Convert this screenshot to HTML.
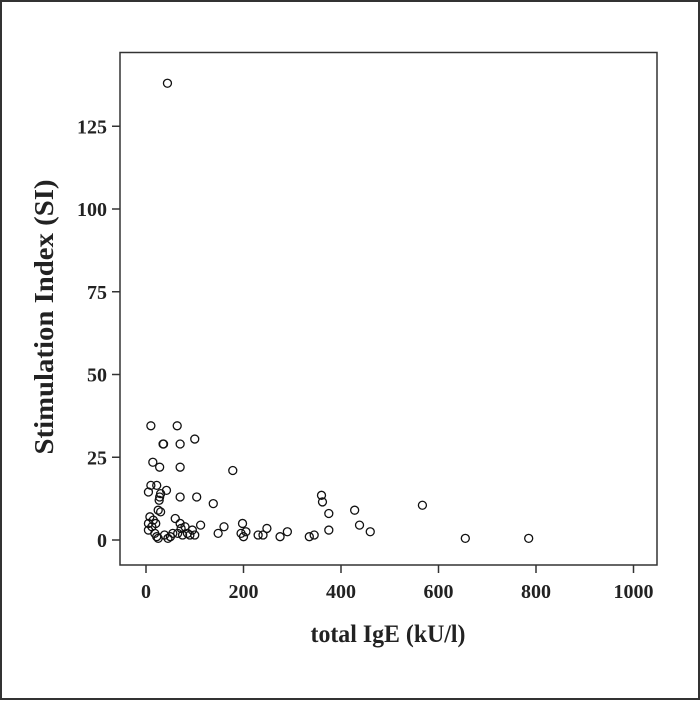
<!DOCTYPE html>
<html><head><meta charset="utf-8"><style>
body{margin:0;background:#fff}
svg text{font-family:"Liberation Serif",serif;font-weight:bold;fill:#222}
</style></head><body>
<svg width="700" height="700" xmlns="http://www.w3.org/2000/svg">
<rect x="1" y="1" width="698" height="698" fill="#fff" stroke="#333" stroke-width="2"/>
<rect x="120" y="52.5" width="537" height="512.5" fill="none" stroke="#333" stroke-width="1.5"/>
<g id="xticks"></g>
<g id="yticks"></g>
<g id="pts"></g>
<text x="388" y="642" font-size="25" text-anchor="middle" textLength="155" lengthAdjust="spacingAndGlyphs">total IgE (kU/l)</text>
<text transform="translate(53,317) rotate(-90)" font-size="27" text-anchor="middle" textLength="275" lengthAdjust="spacingAndGlyphs">Stimulation Index (SI)</text>
</svg>
<script>
const xTicks=[0,200,400,600,800,1000];
const yTicks=[0,25,50,75,100,125];
const igE=[44,10,64,35,36,70,100,14,28,70,178,5,10,22,30,28,27,42,70,104,138,25,30,8,15,5,12,20,5,18,22,25,38,45,50,55,60,65,70,72,75,80,85,90,95,100,112,148,160,195,198,200,205,230,240,248,275,290,335,345,360,362,375,375,428,438,460,567,655,785];
const si=[138,34.5,34.5,29,29,29,30.5,23.5,22,22,21,14.5,16.5,16.5,14,13,12,15,13,13,11,9,8.5,7,6,5,4,5,3,2,1,0.5,1.5,0.5,1,2,6.5,2,5,3.5,1.5,4,2,1.5,3,1.5,4.5,2,4,2,5,1,2.5,1.5,1.5,3.5,1,2.5,1,1.5,13.5,11.5,8,3,9,4.5,2.5,10.5,0.5,0.5];
const NS='http://www.w3.org/2000/svg';
const xs=v=>146+v*0.4875;
const ys=v=>540-v*3.31;
function mk(t,a){const e=document.createElementNS(NS,t);for(const k in a)e.setAttribute(k,a[k]);return e;}
const gx=document.getElementById('xticks'),gy=document.getElementById('yticks'),gp=document.getElementById('pts');
xTicks.forEach(v=>{
  const l=mk('line',{x1:xs(v),x2:xs(v),y1:565,y2:573,stroke:'#333','stroke-width':1.5});
  
  
  gx.appendChild(l);
  const t=mk('text',{x:xs(v),y:598,'font-size':20,'text-anchor':'middle'});
  t.textContent=v;
  
  
  gx.appendChild(t);
});
yTicks.forEach(v=>{
  const l=mk('line',{x1:112,x2:120,y1:ys(v),y2:ys(v),stroke:'#333','stroke-width':1.5});
  
  
  gy.appendChild(l);
  const t=mk('text',{x:107,y:ys(v)+7,'font-size':20,'text-anchor':'end'});
  t.textContent=v;
  
  
  gy.appendChild(t);
});
igE.forEach((v,i)=>{
  const c=mk('circle',{cx:xs(v),cy:ys(si[i]),r:4,fill:'none',stroke:'#111','stroke-width':1.3});
  
  
  gp.appendChild(c);
});
</script>
</body></html>
